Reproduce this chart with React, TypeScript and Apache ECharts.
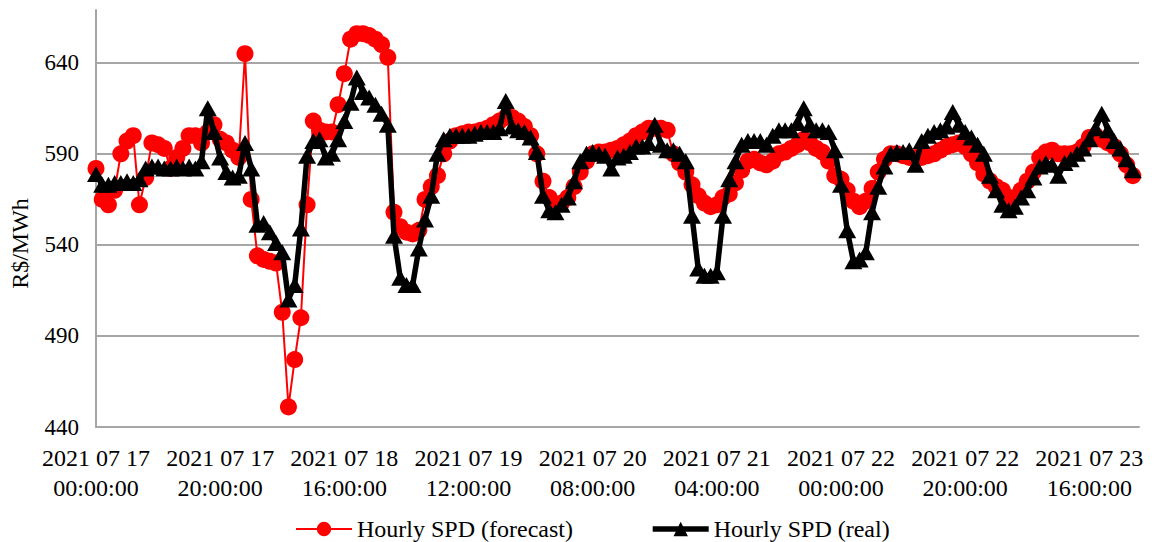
import React, { useEffect, useRef } from 'react';
import * as echarts from 'echarts';

// Hourly SPD forecast (R$/MWh), 2021-07-17 00:00 .. 2021-07-23 23:00
const forecast: number[] = [
  582, 565, 562, 570, 590, 597, 600, 562, 577, 596,
  595, 593, 582, 588, 593, 600, 600, 596, 602, 606,
  598, 596, 592, 588, 645, 565, 534, 532, 531, 530,
  503, 451, 477, 500, 562, 608, 603, 602, 602, 617,
  634, 653, 656, 656, 655, 653, 650, 643, 558, 550,
  547, 546, 548, 565, 572, 578, 590, 597, 600, 601,
  602, 602, 603, 604, 606, 608, 610, 610, 608, 605,
  600, 590, 575, 566, 562, 563, 566, 572, 580, 586,
  590, 591, 591, 592, 593, 595, 597, 600, 602, 604,
  604, 604, 603, 590, 585, 580, 573, 567, 563, 561,
  562, 566, 568, 574, 581, 586, 587, 585, 584, 586,
  590, 591, 593, 595, 598, 596, 593, 591, 586, 578,
  576, 570, 564, 561, 564, 571, 580, 587, 590, 590,
  589, 588, 588, 588, 589, 590, 592, 594, 595, 596,
  594, 590, 585, 579, 575, 572, 570, 566, 566, 570,
  575, 580, 588, 591, 592, 590, 590, 590, 591, 594,
  599, 600, 598, 596, 594, 590, 584, 578,
];

// Hourly SPD real (R$/MWh)
const real: number[] = [
  579, 573, 573, 574, 574, 575, 574, 576, 582, 583,
  583, 582, 582, 583, 582, 583, 582, 586, 615, 602,
  588, 580, 577, 578, 596, 582, 551, 552, 547, 541,
  536, 510, 518, 549, 589, 597, 598, 588, 590, 598,
  608, 618, 632, 624, 621, 617, 612, 606, 545, 522,
  518, 518, 538, 554, 567, 590, 598, 600, 600, 600,
  600, 601, 602, 602, 602, 604, 619, 605, 603, 602,
  599, 591, 567, 559, 558, 562, 566, 575, 586, 590,
  591, 590, 589, 582, 588, 589, 591, 594, 594, 596,
  606, 595, 592, 592, 590, 586, 556, 527, 523, 523,
  525, 556, 576, 586, 595, 597, 597, 597, 595, 600,
  603, 603, 603, 607, 615, 606, 603, 603, 602, 592,
  573, 548, 531, 532, 536, 558, 572, 583, 590, 591,
  591, 592, 584, 597, 600, 602, 603, 605, 613, 606,
  602, 599, 595, 590, 578, 570, 562, 559, 561, 566,
  570, 577, 583, 585, 584, 578, 585, 587, 590, 593,
  598, 604, 612, 603, 597, 593, 587, 581,
];

const START_UTC = Date.UTC(2021, 6, 17, 0, 0, 0);
const pad = (n: number) => String(n).padStart(2, '0');
const timeLabels: string[] = forecast.map((_, i) => {
  const d = new Date(START_UTC + i * 3600000);
  return `${d.getUTCFullYear()} ${pad(d.getUTCMonth() + 1)} ${pad(d.getUTCDate())}\n${pad(d.getUTCHours())}:00:00`;
});

const seriesNames = ['Hourly SPD (forecast)', 'Hourly SPD (real)'];
const yTicks = [440, 490, 540, 590, 640];
const yAxisName = 'R$/MWh';

const FONT = 'Liberation Serif';

export default function App() {
  const ref = useRef<HTMLDivElement>(null);
  useEffect(() => {
    if (!ref.current) return;
    const chart = echarts.init(ref.current, undefined, { renderer: 'svg' });
    const grey = '#a6a6a6';
    chart.setOption({
      animation: false,
      backgroundColor: '#ffffff',
      textStyle: { fontFamily: FONT },
      grid: { left: 89, right: 19, top: 10, bottom: 115, containLabel: false },
      legend: {
        left: 290,
        top: 512,
        itemWidth: 56,
        itemHeight: 18,
        itemGap: 77,
        lineStyle: { width: 'inherit' },
        textStyle: { fontFamily: FONT, fontSize: 24, color: '#000' },
        data: seriesNames,
      },
      xAxis: {
        type: 'value',
        min: 0,
        max: forecast.length,
        interval: 20,
        axisLine: { show: true, lineStyle: { color: grey, width: 2 } },
        axisTick: { show: false },
        splitLine: { show: false },
        axisLabel: {
          fontFamily: FONT,
          fontSize: 24,
          lineHeight: 30,
          color: '#000',
          margin: 16,
          showMaxLabel: false,
          formatter: (v: number) => (v % 20 === 0 && timeLabels[v] ? timeLabels[v] : ''),
        },
      },
      yAxis: {
        type: 'value',
        min: yTicks[0],
        max: 669,
        interval: 50,
        name: yAxisName,
        nameLocation: 'middle',
        nameGap: 64,
        nameTextStyle: { fontFamily: FONT, fontSize: 24, color: '#000', padding: [0, 50, 0, 0] },
        axisLine: { show: true, lineStyle: { color: grey, width: 2 } },
        axisTick: { show: false },
        axisLabel: {
          fontFamily: FONT,
          fontSize: 23,
          color: '#000',
          margin: 17,
          showMaxLabel: false,
        },
        splitLine: { show: true, showMaxLine: false, lineStyle: { color: grey, width: 2 } },
      },
      series: [
        {
          name: seriesNames[0],
          type: 'line',
          data: forecast.map((v, i) => [i, v]),
          symbol: 'circle',
          symbolSize: 17,
          itemStyle: { color: '#ff0000' },
          lineStyle: { color: '#ff0000', width: 2 },
          z: 2,
        },
        {
          name: seriesNames[1],
          type: 'line',
          data: real.map((v, i) => [i, v]),
          symbol: 'triangle',
          symbolSize: [18, 16],
          itemStyle: { color: '#000000' },
          lineStyle: { color: '#000000', width: 5.5 },
          z: 3,
        },
      ],
    });
    return () => chart.dispose();
  }, []);
  return (
    <div
      ref={ref}
      style={{ position: 'fixed', left: 0, top: 0, width: 1158, height: 542, background: '#fff' }}
    />
  );
}
